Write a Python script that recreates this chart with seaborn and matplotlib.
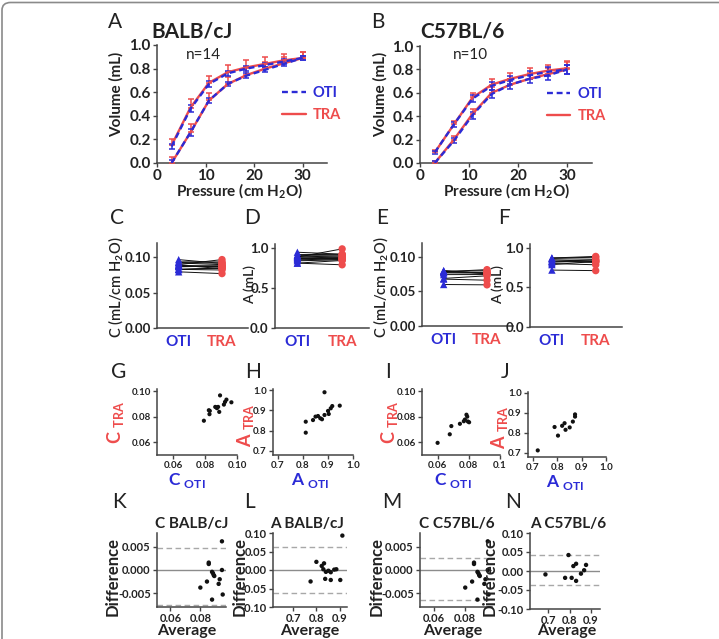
import numpy as np
import pandas as pd
import matplotlib
matplotlib.use('Agg')
import matplotlib.pyplot as plt
import seaborn as sns
from matplotlib.lines import Line2D
from matplotlib.patches import FancyBboxPatch
from matplotlib.ticker import FormatStrFormatter

# ── Data ─────────────────────────────────────────────────────────────────────
pressure = [3, 6.9, 10.7, 14.6, 18.4, 22.3, 26.1, 30]

balb_oti_defl = [0.14, 0.46, 0.67, 0.76, 0.80, 0.83, 0.86, 0.89]
balb_tra_defl = [0.15, 0.47, 0.68, 0.77, 0.81, 0.84, 0.87, 0.89]
balb_oti_infl = [0.00, 0.26, 0.53, 0.67, 0.74, 0.79, 0.84, 0.89]
balb_tra_infl = [0.00, 0.26, 0.53, 0.67, 0.745, 0.80, 0.845, 0.89]
balb_oti_err = [0.025, 0.03, 0.025, 0.02, 0.02, 0.02, 0.02, 0.02]
balb_tra_err = [0.05, 0.07, 0.06, 0.06, 0.06, 0.06, 0.05, 0.05]

c57_oti_defl = [0.09, 0.33, 0.55, 0.66, 0.71, 0.75, 0.78, 0.80]
c57_tra_defl = [0.09, 0.33, 0.56, 0.67, 0.72, 0.76, 0.79, 0.81]
c57_oti_infl = [0.00, 0.19, 0.41, 0.59, 0.67, 0.72, 0.75, 0.80]
c57_tra_infl = [0.00, 0.20, 0.42, 0.60, 0.67, 0.72, 0.76, 0.80]
c57_oti_err = [0.015, 0.02, 0.03, 0.035, 0.035, 0.035, 0.04, 0.04]
c57_tra_err = [0.02, 0.03, 0.04, 0.05, 0.05, 0.05, 0.05, 0.06]

# compliance C (mL/cm H2O), per mouse
balb_C_oti = [0.0793, 0.0824, 0.0828, 0.0864, 0.0875, 0.0882, 0.0889,
              0.0894, 0.0918, 0.0925, 0.0934, 0.0965, 0.0830, 0.0872]
balb_C_tra = [0.0768, 0.0850, 0.0819, 0.0876, 0.0866, 0.0876, 0.0837,
              0.0966, 0.0894, 0.0915, 0.0933, 0.0912, 0.0845, 0.0872]
# inspiratory capacity A (mL), per mouse
balb_A_oti = [0.811, 0.811, 0.840, 0.850, 0.860, 0.869, 0.876,
              0.886, 0.886, 0.900, 0.903, 0.911, 0.917, 0.947]
balb_A_tra = [0.844, 0.790, 0.852, 0.869, 0.872, 0.861, 0.856,
              0.989, 0.877, 0.897, 0.882, 0.910, 0.921, 0.923]

c57_C_oti = [0.0600, 0.0678, 0.0688, 0.0743, 0.0768, 0.0775, 0.0785, 0.0790, 0.0794, 0.0802]
c57_C_tra = [0.0595, 0.0662, 0.0726, 0.0744, 0.0764, 0.0777, 0.0815, 0.0800, 0.0762, 0.0756]
c57_A_oti = [0.720, 0.789, 0.803, 0.820, 0.830, 0.834, 0.851, 0.864, 0.873, 0.873]
c57_A_tra = [0.713, 0.830, 0.787, 0.836, 0.849, 0.816, 0.828, 0.857, 0.882, 0.893]

# Bland-Altman (difference = TRA - OTI)
ba_C_avg = [0.0800, 0.0844, 0.0856, 0.0856, 0.0878, 0.0878, 0.0884,
            0.0889, 0.0893, 0.0922, 0.0929, 0.0944, 0.0949, 0.0944]
ba_C_diff = [-0.0038, -0.0025, 0.0013, 0.0016, -0.0064, -0.0004, -0.0007,
             -0.0011, -0.0013, -0.0030, -0.0020, 0.0000, -0.0053, 0.0062]
balb_C_loa = [-0.0075, 0.0048]
c57_C_loa = [-0.0064, 0.0027]

balb_ba_A_avg = [0.775, 0.800, 0.823, 0.833, 0.830, 0.841, 0.838,
                 0.852, 0.862, 0.862, 0.877, 0.886, 0.903, 0.912]
balb_ba_A_diff = [-0.031, 0.022, 0.011, 0.018, 0.002, -0.005, -0.024,
                  -0.002, -0.006, -0.027, 0.001, 0.002, -0.027, 0.093]
balb_A_loa = [-0.061, 0.063]

c57_ba_A_avg = [0.686, 0.779, 0.795, 0.810, 0.818, 0.831, 0.831, 0.854, 0.869, 0.878]
c57_ba_A_diff = [-0.009, -0.018, 0.042, -0.018, 0.013, 0.019, -0.026, -0.007, 0.002, 0.016]
c57_A_loa = [-0.037, 0.043]

# ── Style ────────────────────────────────────────────────────────────────────
BLUE = '#2b2bd6'
RED = '#ee4c4c'
AX = '#444444'

sns.set_theme(style='ticks')
plt.rcParams['font.family'] = ['Lato', 'DejaVu Sans']
plt.rcParams.update({
    'font.weight': 'bold',
    'mathtext.fontset': 'custom',
    'mathtext.rm': 'Lato:bold',
    'mathtext.bf': 'Lato:bold',
    'axes.edgecolor': AX,
    'axes.linewidth': 1.1,
    'xtick.color': AX, 'ytick.color': AX,
    'xtick.labelcolor': '#222222', 'ytick.labelcolor': '#222222',
    'xtick.major.size': 3, 'ytick.major.size': 3,
    'xtick.major.width': 1.0, 'ytick.major.width': 1.0,
    'xtick.major.pad': 1.5, 'ytick.major.pad': 1.5,
})

W, H = 719, 639
fig = plt.figure(figsize=(W / 100, H / 100), dpi=100)


def ax_px(x0, y0, x1, y1):
    return fig.add_axes([x0 / W, 1 - y1 / H, (x1 - x0) / W, (y1 - y0) / H])


def txt(x, y, s, size=9, weight='bold', color='#222222', rot=0, **kw):
    fig.text(x / W, 1 - y / H, s, ha='center', va='center', fontsize=size,
             fontweight=weight, color=color, rotation=rot, **kw)


def style_ax(ax, size=8):
    sns.despine(ax=ax)
    ax.tick_params(labelsize=size)
    ax.set_xlabel('')
    ax.set_ylabel('')


# frame around the figure
fig.patches.append(FancyBboxPatch((2 / W, -0.2), 1.5, 1.2 - 2.5 / H,
                                  boxstyle='round,pad=0,rounding_size=0.012',
                                  transform=fig.transFigure, fill=False,
                                  edgecolor='#8a8a8a', lw=1.2))


# ── A / B : pressure-volume loops ────────────────────────────────────────────
def pv_panel(box, oti_d, tra_d, oti_i, tra_i, oti_err, tra_err):
    ax = ax_px(*box)
    df = pd.DataFrame({
        'P': pressure * 4,
        'V': tra_d + tra_i + oti_d + oti_i,
        'route': ['TRA'] * 16 + ['OTI'] * 16,
        'branch': ['d'] * 8 + ['i'] * 8 + ['d2'] * 8 + ['i2'] * 8,
    })
    for vals in [tra_d, tra_i]:
        ax.errorbar(pressure, vals, yerr=[[0] * len(tra_err), tra_err], fmt='none',
                    ecolor=RED, elinewidth=1.1, capsize=2.5, capthick=1.1, zorder=3)
    for vals in [oti_d, oti_i]:
        ax.errorbar(pressure, vals, yerr=oti_err, fmt='none', ecolor=BLUE,
                    elinewidth=1.1, capsize=2.5, capthick=1.1, zorder=3)
    sns.lineplot(data=df, x='P', y='V', hue='route', style='route', units='branch',
                 estimator=None, hue_order=['TRA', 'OTI'],
                 palette={'TRA': RED, 'OTI': BLUE},
                 dashes={'TRA': '', 'OTI': (2.5, 1.6)}, lw=1.7, legend=False,
                 ax=ax, zorder=4)
    ax.set_xlim(0, 35)
    ax.set_ylim(0, 1.0)
    ax.set_xticks([0, 10, 20, 30])
    ax.set_yticks([0, 0.2, 0.4, 0.6, 0.8, 1.0])
    ax.yaxis.set_major_formatter(FormatStrFormatter('%.1f'))
    style_ax(ax, 11)
    ax.legend(handles=[Line2D([], [], color=BLUE, ls=(0, (2.5, 1.6)), lw=1.7),
                       Line2D([], [], color=RED, lw=1.7)],
              labels=['OTI', 'TRA'], loc='upper left',
              bbox_to_anchor=(0.66, 0.76), frameon=False, handlelength=1.6,
              handletextpad=0.5, labelspacing=0.55,
              prop={'weight': 'bold', 'size': 10.5},
              labelcolor=[BLUE, RED])
    return ax


pv_panel((157, 45, 327, 163), balb_oti_defl, balb_tra_defl, balb_oti_infl,
         balb_tra_infl, balb_oti_err, balb_tra_err)
pv_panel((420, 46, 592, 163), c57_oti_defl, c57_tra_defl, c57_oti_infl,
         c57_tra_infl, c57_oti_err, c57_tra_err)

txt(115, 22, 'A', size=15, weight='normal')
txt(378, 22, 'B', size=15, weight='normal')
txt(192, 32, 'BALB/cJ', size=15)
txt(462, 32, 'C57BL/6', size=15)
txt(203, 55, 'n=14', size=11, weight='normal')
txt(470, 55, 'n=10', size=11, weight='normal')
txt(116, 94, 'Volume (mL)', size=11, rot=90)
txt(380, 94, 'Volume (mL)', size=11, rot=90)
txt(240, 191, r'Pressure (cm H$_{2}$O)', size=11)
txt(507, 191, r'Pressure (cm H$_{2}$O)', size=11)


# ── C-F : paired before/after panels ─────────────────────────────────────────
def paired_panel(box, oti, tra, ylim, yticks, fmt):
    ax = ax_px(*box)
    n = len(oti)
    df = pd.DataFrame({'mouse': list(range(n)) * 2,
                       'route': ['OTI'] * n + ['TRA'] * n,
                       'val': list(oti) + list(tra)})
    df['pos'] = df['route'].map({'OTI': 0, 'TRA': 1})
    sns.lineplot(data=df, x='pos', y='val', units='mouse', estimator=None,
                 color='#111111', lw=0.7, ax=ax, zorder=2)
    sns.scatterplot(data=df, x='pos', y='val', hue='route', style='route',
                    palette={'OTI': BLUE, 'TRA': RED},
                    markers={'OTI': '^', 'TRA': 'o'}, s=28, edgecolor='none',
                    legend=False, ax=ax, zorder=3, clip_on=False)
    ax.set_xlim(-0.5, 1.6)
    ax.set_ylim(*ylim)
    ax.set_yticks(yticks)
    ax.yaxis.set_major_formatter(FormatStrFormatter(fmt))
    ax.set_xticks([0, 1], ['OTI', 'TRA'])
    style_ax(ax, 9.5)
    ax.tick_params(axis='x', length=0, pad=5, labelsize=11)
    xt = ax.get_xticklabels()
    xt[0].set_color(BLUE)
    xt[1].set_color(RED)
    return ax


paired_panel((157, 243, 248, 328), balb_C_oti, balb_C_tra, (0, 0.12), [0, 0.05, 0.10], '%.2f')
paired_panel((275, 244, 369, 328), balb_A_oti, balb_A_tra, (0, 1.05), [0, 0.5, 1.0], '%.1f')
paired_panel((422, 243, 513, 326), c57_C_oti, c57_C_tra, (0, 0.12), [0, 0.05, 0.10], '%.2f')
paired_panel((530, 244, 622, 327), c57_A_oti, c57_A_tra, (0, 1.05), [0, 0.5, 1.0], '%.1f')

for x, s in [(117, 'C'), (252, 'D'), (382, 'E'), (504, 'F')]:
    txt(x, 218, s, size=15, weight='normal')
txt(116, 287, r'C (mL/cm H$_{2}$O)', size=10.5, weight='semibold', rot=90)
txt(250, 285, 'A (mL)', size=10, weight='semibold', rot=90)
txt(381, 287, r'C (mL/cm H$_{2}$O)', size=10.5, weight='semibold', rot=90)
txt(498, 285, 'A (mL)', size=10, weight='semibold', rot=90)


# ── G-J : TRA vs OTI scatter ─────────────────────────────────────────────────
def scatter_panel(box, x, y, lim, ticks, labels):
    ax = ax_px(*box)
    sns.scatterplot(x=x, y=y, color='#111111', s=9, edgecolor='none', ax=ax)
    ax.set_xlim(*lim[0])
    ax.set_ylim(*lim[1])
    ax.set_xticks(ticks[0], labels[0])
    ax.set_yticks(ticks[1], labels[1])
    style_ax(ax, 7)
    return ax


c_ticks = [0.06, 0.08, 0.10]
a_ticks = [0.7, 0.8, 0.9, 1.0]
scatter_panel((157, 389, 237, 455), balb_C_oti, balb_C_tra,
              ((0.05, 0.10), (0.05, 0.1016)), (c_ticks, c_ticks),
              (['0.06', '0.08', '0.10'], ['0.06', '0.08', '0.10']))
scatter_panel((273, 389, 353, 455), balb_A_oti, balb_A_tra,
              ((0.68, 1.0), (0.68, 1.005)), (a_ticks, a_ticks),
              (['0.7', '0.8', '0.9', '1.0'], ['0.7', '0.8', '0.9', '1.0']))
scatter_panel((422, 389, 500, 455), c57_C_oti, c57_C_tra,
              ((0.05, 0.10), (0.05, 0.1016)), (c_ticks, c_ticks),
              (['0.06', '0.08', '0.1'], ['0.06', '0.08', '0.10']))
scatter_panel((528, 392, 606, 457), c57_A_oti, c57_A_tra,
              ((0.68, 1.0), (0.68, 1.005)), (a_ticks, a_ticks),
              (['0.7', '0.8', '0.9', '1.0'], ['0.7', '0.8', '0.9', '1.0']))

for x, s in [(119, 'G'), (253, 'H'), (388, 'I'), (505, 'J')]:
    txt(x, 372, s, size=15, weight='normal')
for x, y, s in [(116, 423, 'C'), (245, 425, 'A'), (390, 423, 'C'), (500, 427, 'A')]:
    txt(x, y, s + r' $_{\mathrm{TRA}}$', size=13, color=RED, rot=90)
for x, y, s in [(187, 480, 'C'), (310, 480, 'A'), (453, 480, 'C'), (565, 482, 'A')]:
    txt(x, y, s + r' $_{\mathrm{OTI}}$', size=12.5, color=BLUE)


# ── K-N : Bland-Altman ───────────────────────────────────────────────────────
def ba_panel(box, avg, diff, loa, xlim, ylim, xticks, yticks, fmt):
    ax = ax_px(*box)
    ax.axhline(0, color='#8c8c8c', lw=1.0, zorder=1)
    for v in loa:
        ax.axhline(v, color='#a8a8a8', lw=1.0, ls=(0, (4, 2.5)), zorder=1)
    sns.scatterplot(x=avg, y=diff, color='#111111', s=10, edgecolor='none',
                    ax=ax, zorder=3, clip_on=False)
    ax.set_xlim(*xlim)
    ax.set_ylim(*ylim)
    ax.set_xticks(xticks)
    ax.set_yticks(yticks)
    ax.xaxis.set_major_formatter(FormatStrFormatter(fmt[0]))
    ax.yaxis.set_major_formatter(FormatStrFormatter(fmt[1]))
    style_ax(ax, 8)
    return ax


ba_panel((157, 533, 226, 607), ba_C_avg, ba_C_diff, balb_C_loa,
         (0.0511, 0.0971), (-0.008, 0.008), [0.06, 0.08], [-0.005, 0, 0.005], ('%.2f', '%.3f'))
ba_panel((273, 533, 347, 607), balb_ba_A_avg, balb_ba_A_diff, balb_A_loa,
         (0.613, 0.932), (-0.10, 0.10), [0.7, 0.8, 0.9], [-0.10, -0.05, 0, 0.05, 0.10], ('%.1f', '%.2f'))
ba_panel((420, 533, 492, 607), ba_C_avg, ba_C_diff, c57_C_loa,
         (0.0511, 0.0971), (-0.008, 0.008), [0.06, 0.08], [-0.005, 0, 0.005], ('%.2f', '%.3f'))
ba_panel((530, 533, 600, 609), c57_ba_A_avg, c57_ba_A_diff, c57_A_loa,
         (0.613, 0.944), (-0.10, 0.10), [0.7, 0.8, 0.9], [-0.10, -0.05, 0, 0.05, 0.10], ('%.1f', '%.2f'))

for x, s in [(119, 'K'), (250, 'L'), (392, 'M'), (513, 'N')]:
    txt(x, 502, s, size=15, weight='normal')
for x, s in [(192, 'C BALB/cJ'), (307, 'A BALB/cJ'), (457, 'C C57BL/6'), (568, 'A C57BL/6')]:
    txt(x, 524, s, size=11)
for x in [113, 240, 377, 490]:
    txt(x, 576, 'Difference', size=12, rot=90)
for x in [187, 310, 453, 567]:
    txt(x, 631, 'Average', size=11.5)

fig.savefig('out.png', dpi=100)
